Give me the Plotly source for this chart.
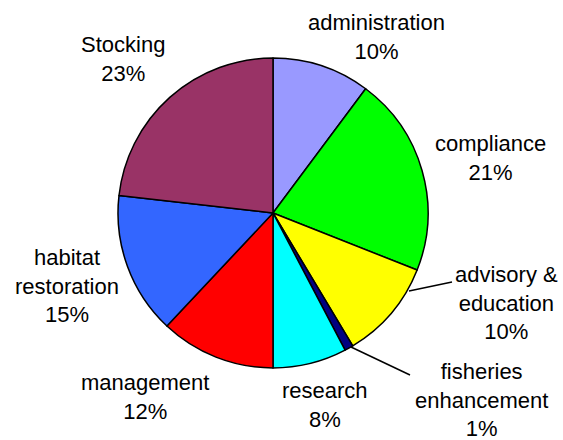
import plotly.graph_objects as go

categories = ["administration", "compliance", "advisory &<br>education", "fisheries<br>enhancement",
              "research", "management", "habitat<br>restoration", "Stocking"]
values = [10.2, 20.8, 10.4, 0.9, 7.7, 12.0, 14.8, 23.2]
colors = ["#9999FF", "#00FF00", "#FFFF00", "#000080", "#00FFFF", "#FF0000", "#3366FF", "#993366"]

W, H = 563, 440
# label block centres (pixels)
label_pos = [(376, 37), (490, 158), (506, 303), (481, 400), (325, 405), (145, 397), (67, 286), (123, 59)]
# leader lines (pixels): label end -> pie edge
leaders = {2: ((452, 282), (409, 291)), 3: ((410, 375), (351, 347))}

fig = go.Figure()
fig.add_trace(go.Pie(
    labels=categories, values=values, sort=False, direction="clockwise", rotation=0,
    marker=dict(colors=colors, line=dict(color="black", width=1.5)),
    textinfo="none", hoverinfo="label+percent", showlegend=False,
    domain=dict(x=[118 / W, 428 / W], y=[1 - 368 / H, 1 - 58 / H]),
))

total = sum(values)
for i, (lab, v) in enumerate(zip(categories, values)):
    px, py = label_pos[i]
    fig.add_annotation(
        x=px / W, y=1 - py / H, xref="paper", yref="paper",
        text=f"{lab}<br>{round(v / total * 100)}%", showarrow=False,
        font=dict(family="Liberation Sans, Arial, sans-serif", size=22, color="black"),
        align="center", xanchor="center", yanchor="middle",
    )

for i, ((x0, y0), (x1, y1)) in leaders.items():
    fig.add_shape(type="line", xref="paper", yref="paper",
                  x0=x0 / W, y0=1 - y0 / H, x1=x1 / W, y1=1 - y1 / H,
                  line=dict(color="black", width=1.5))

fig.update_layout(width=W, height=H, margin=dict(l=0, r=0, t=0, b=0),
                  paper_bgcolor="white", plot_bgcolor="white")
fig.write_html("out.html", config={"displayModeBar": False},
               post_script="document.body.style.margin='0';")
